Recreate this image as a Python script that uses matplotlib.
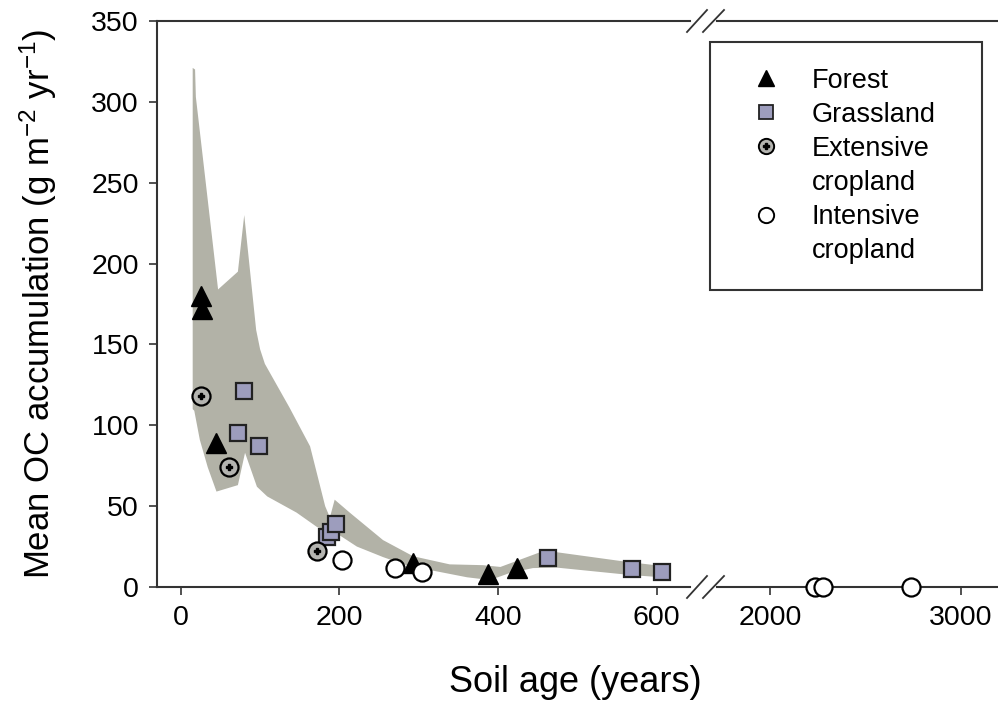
import matplotlib
matplotlib.use("Agg")
import matplotlib.pyplot as plt
from matplotlib.lines import Line2D
import numpy as np

plt.rcParams['font.family'] = ['Liberation Sans', 'DejaVu Sans']
plt.rcParams['mathtext.default'] = 'regular'

# soil age (years) / mean OC accumulation (g m-2 yr-1)
forest_age = [26, 27, 45, 293, 387, 424]
forest_oc = [180, 172, 89, 15, 8, 12]

grass_age = [80, 72, 98, 184, 190, 196, 463, 569, 607]
grass_oc = [121, 95, 87, 31, 34, 39, 18, 11, 9]

ext_age = [25, 61, 172]
ext_oc = [118, 74, 22]

int_age = [203, 270, 304, 2236, 2277, 2738]
int_oc = [17, 12, 9, 0, 0, 0]

# envelope around the land-use data
band_top_age = [15, 18, 19, 47, 72, 80, 95, 100, 106, 137, 163, 182, 188, 194,
                213, 255, 293, 339, 381, 403, 453, 474, 563, 607]
band_top_oc = [321, 320, 303, 184, 195, 230, 159, 147, 138, 111, 87, 50, 43, 54,
               46, 29, 19, 14, 13.5, 12.4, 21.5, 21.5, 15.5, 13]
band_bot_age = [607, 567, 474, 444, 415, 390, 361, 314, 293, 255, 222, 197,
                172, 146, 109, 96, 81, 72, 45, 34, 24, 17, 15]
band_bot_oc = [6, 7.4, 12, 11.7, 8.7, 4.3, 6, 10.5, 12, 18.5, 25, 33,
               37, 46, 56, 62, 83, 63, 59, 74, 91, 109, 110]

W, H = 998, 701
fig = plt.figure(figsize=(W / 100, H / 100), dpi=100)
bottom = 1 - 587 / H
height = (587 - 21) / H
ax1 = fig.add_axes([157 / W, bottom, (690 - 157) / W, height])
ax2 = fig.add_axes([717 / W, bottom, (997 - 717) / W, height])
ax1.set_xlim(-30, 642)
ax2.set_xlim(1722, 3190)

band_color = '#b2b2a7'
grass_color = '#9d9dbd'
ext_color = '#b4b4b0'

ax1.fill(band_top_age + band_bot_age, band_top_oc + band_bot_oc,
         color=band_color, lw=0, zorder=1)


def part(ax, xs, ys):
    # keep only the points that fall in this segment of the broken axis
    lo, hi = ax.get_xlim()
    xs, ys = np.asarray(xs), np.asarray(ys)
    keep = (xs >= lo) & (xs <= hi)
    return xs[keep], ys[keep]


ms = 13
for ax in (ax1, ax2):
    ax.plot(*part(ax, forest_age, forest_oc), ls='none', marker='^',
            ms=ms + 1, color='black', zorder=3, clip_on=False)
    ax.plot(*part(ax, grass_age, grass_oc), ls='none', marker='s', ms=ms - 1,
            mfc=grass_color, mec='#222222', mew=1.6, zorder=3, clip_on=False)
    ax.plot(*part(ax, ext_age, ext_oc), ls='none', marker='o', ms=ms,
            mfc=ext_color, mec='black', mew=1.6, zorder=3, clip_on=False)
    ax.plot(*part(ax, ext_age, ext_oc), ls='none', marker='P', ms=5,
            color='black', zorder=4, clip_on=False)
    ax.plot(*part(ax, int_age, int_oc), ls='none', marker='o', ms=ms,
            mfc='white', mec='black', mew=1.6, zorder=3, clip_on=False)

    ax.set_ylim(0, 350)
    ax.spines['right'].set_visible(False)
    for s in ('top', 'bottom', 'left'):
        ax.spines[s].set_linewidth(1.5)
        ax.spines[s].set_color('#333333')
    ax.tick_params(direction='out', length=6, width=1.2, color='#333333',
                   labelsize=20.5, pad=7, top=False, right=False)

ax1.set_xticks([0, 200, 400, 600])
ax1.set_yticks(np.arange(0, 351, 50))

ax2.set_xticks([2000, 3000])
ax2.spines['left'].set_visible(False)
ax2.tick_params(left=False, labelleft=False)

# axis break marks
for xs in ((687, 707), (703, 724)):
    for yc in (21, 587):
        fig.add_artist(Line2D([xs[0] / W, xs[1] / W],
                              [1 - (yc + 11) / H, 1 - (yc - 11) / H],
                              color='#333333', lw=1.3))

fig.text(38 / W, 1 - 304 / H, 'Mean OC accumulation (g m$^{-2}$ yr$^{-1}$)',
         rotation=90, ha='center', va='center', fontsize=25)
fig.text(575 / W, 1 - 682 / H, 'Soil age (years)', ha='center', va='center',
         fontsize=26)

blank = Line2D([], [], ls='none')
handles = [
    Line2D([], [], ls='none', marker='^', ms=11, color='black'),
    Line2D([], [], ls='none', marker='s', ms=10, mfc=grass_color,
           mec='#222222', mew=1.3),
    (Line2D([], [], ls='none', marker='o', ms=11, mfc=ext_color,
            mec='black', mew=1.4),
     Line2D([], [], ls='none', marker='P', ms=4, color='black')),
    blank,
    Line2D([], [], ls='none', marker='o', ms=11, mfc='white',
           mec='black', mew=1.4),
    blank,
]
labels = ['Forest', 'Grassland', 'Extensive', 'cropland', 'Intensive',
          'cropland']
leg = fig.legend(handles, labels, loc='upper left',
                 bbox_to_anchor=(710 / W, 1 - 42 / H - 0.01, (982 - 710) / W,
                                 0.01),
                 mode='expand', fontsize=19.5, frameon=True, fancybox=False,
                 edgecolor='#333333', framealpha=1, borderpad=0.95,
                 handlelength=2.2, handletextpad=0.6, labelspacing=0.3,
                 borderaxespad=0)
leg.get_frame().set_linewidth(1.5)

fig.savefig('out.png', dpi=100)
